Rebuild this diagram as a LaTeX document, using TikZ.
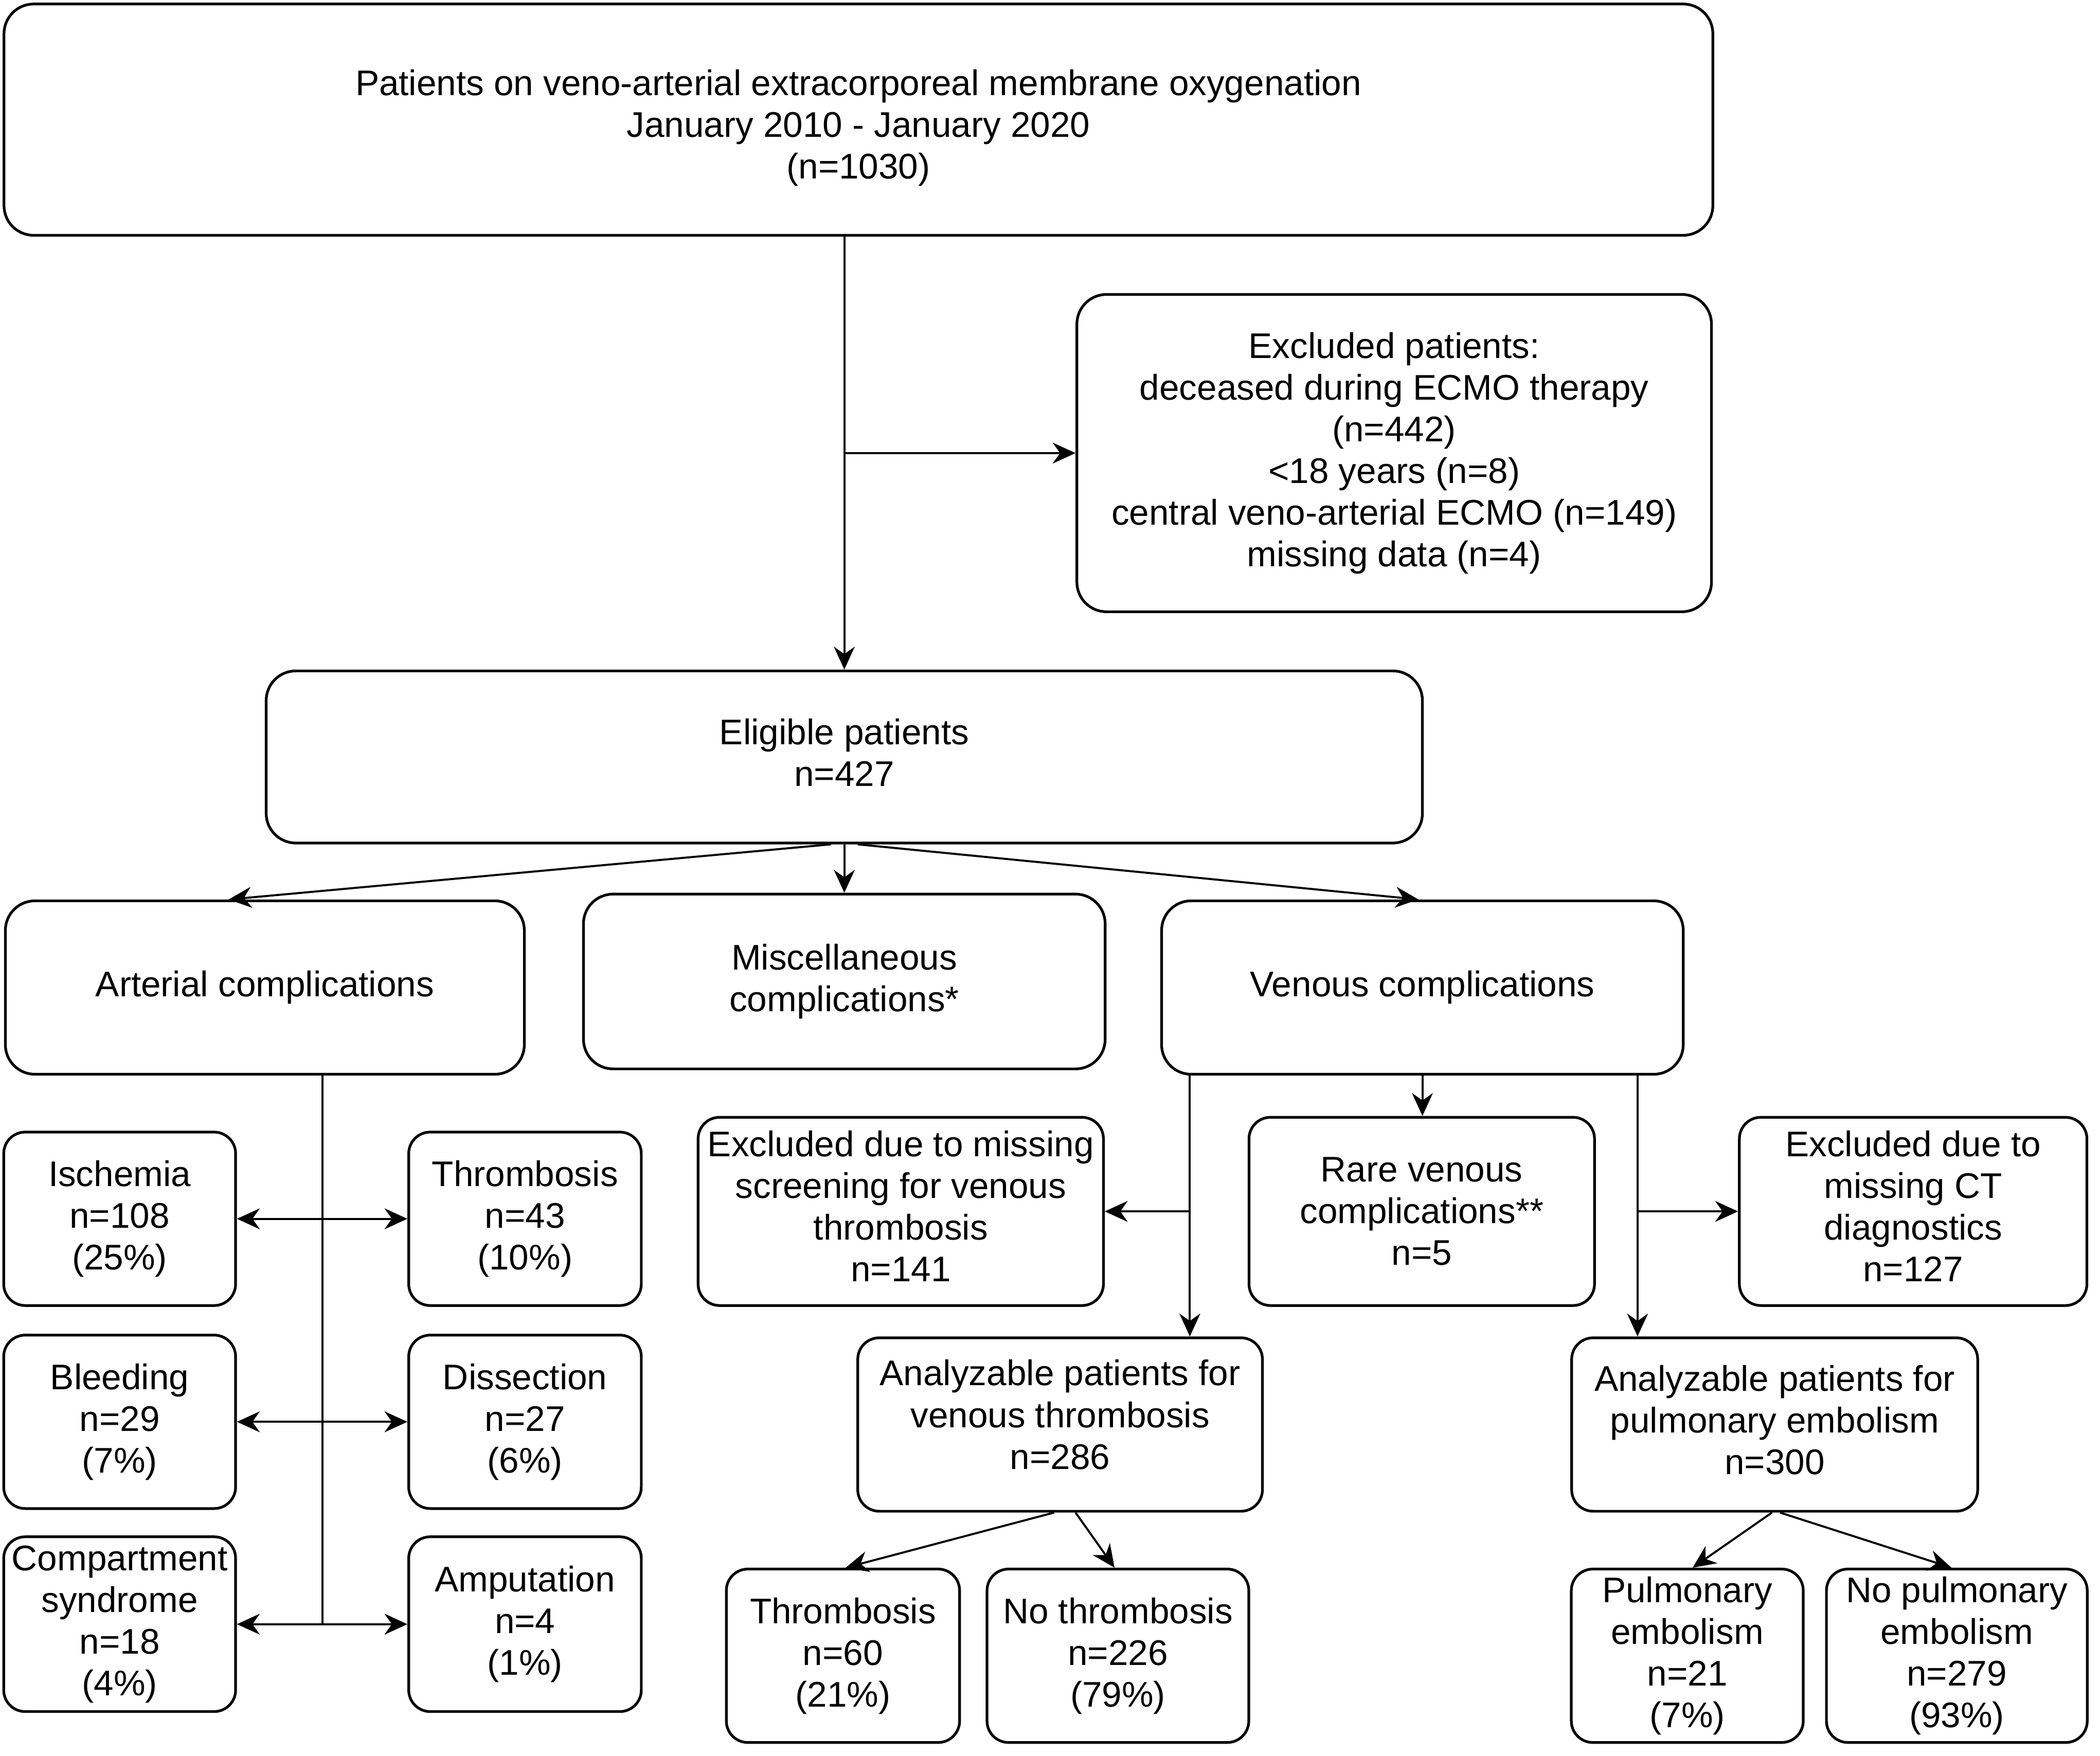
\documentclass[tikz,border=0pt]{standalone}
\usepackage{fontspec}
\setmainfont{Liberation Sans}
\usetikzlibrary{arrows.meta,calc}
\newcommand{\dpt}[1]{\rule[-#1]{0pt}{#1}}
\begin{document}
\begin{tikzpicture}[x=1pt,y=-1pt,
  box/.style={draw,line width=2pt,rounded corners=16pt,align=center,inner sep=1pt,
    font=\fontsize{26.5}{31}\selectfont},
  bigbox/.style={box,rounded corners=22pt},
  tip/.tip={Stealth[length=17pt,width=15.5pt,inset=5.5pt]},
  conn/.style={line width=1.5pt},
  arr/.style={conn,-tip},
  darr/.style={conn,tip-tip}]
\useasboundingbox (0,0) rectangle (1562,1306);
\fill[white] (0,0) rectangle (1562,1306);
% top level
\node[bigbox,minimum width=1271pt,minimum height=172pt] (top) at (638.5,89)
  {\rule{0pt}{31.5pt}Patients on veno-arterial extracorporeal membrane oxygenation\\January 2010 - January 2020\\(n=1030)};
\node[bigbox,minimum width=472pt,minimum height=236pt] (excl) at (1037,337)
  {Excluded patients:\\deceased during ECMO therapy\\(n=442)\\<18 years (n=8)\\central veno-arterial ECMO (n=149)\\missing data (n=4)};
\node[bigbox,minimum width=860pt,minimum height=128pt] (elig) at (628,563)
  {Eligible patients\\n=427\dpt{7pt}};
% second level
\node[bigbox,minimum width=386pt,minimum height=129pt] (art) at (197,734.5) {Arterial complications};
\node[bigbox,minimum width=388pt,minimum height=130pt] (misc) at (628,730) {Miscellaneous\\complications*};
\node[bigbox,minimum width=388pt,minimum height=129pt] (ven) at (1058,734.5) {Venous complications};
% arterial sub-boxes
\node[box,minimum width=172.5pt,minimum height=129pt] (isch) at (89,906.5) {Ischemia\\n=108\\(25\%)};
\node[box,minimum width=173pt,minimum height=129pt] (thr) at (390.5,906.5) {Thrombosis\\n=43\\(10\%)};
\node[box,minimum width=172.5pt,minimum height=129pt] (bleed) at (89,1057.5) {Bleeding\\n=29\\(7\%)};
\node[box,minimum width=173pt,minimum height=129pt] (diss) at (390.5,1057.5) {Dissection\\n=27\\(6\%)};
\node[box,minimum width=172.5pt,minimum height=130pt] (comp) at (89,1208) {Compartment\\syndrome\\n=18\\(4\%)};
\node[box,minimum width=173pt,minimum height=130pt] (amp) at (390.5,1208) {Amputation\\n=4\\(1\%)};
% venous sub-boxes
\node[box,minimum width=301.5pt,minimum height=140pt] (exs) at (670,901)
  {Excluded due to missing\\screening for venous\\thrombosis\\n=141\dpt{8pt}};
\node[box,minimum width=257pt,minimum height=140pt] (rare) at (1057.5,901)
  {Rare venous\\complications**\\n=5};
\node[box,minimum width=258.5pt,minimum height=140pt] (exct) at (1423,901)
  {Excluded due to\\missing CT\\diagnostics\\n=127\dpt{8pt}};
\node[box,minimum width=301pt,minimum height=129pt] (anv) at (788.5,1059.5)
  {Analyzable patients for\\venous thrombosis\\n=286\dpt{15pt}};
\node[box,minimum width=302pt,minimum height=129pt] (anp) at (1320,1059.5)
  {Analyzable patients for\\pulmonary embolism\\n=300\dpt{7pt}};
\node[box,minimum width=173.5pt,minimum height=129pt] (thv) at (627,1231.5) {Thrombosis\\n=60\\(21\%)};
\node[box,minimum width=194.7pt,minimum height=129pt] (nthv) at (831.5,1231.5) {No thrombosis\\n=226\\(79\%)};
\node[box,minimum width=172.5pt,minimum height=129pt] (pe) at (1255,1231.5) {Pulmonary\\embolism\\n=21\\(7\%)};
\node[box,minimum width=194pt,minimum height=129pt] (npe) at (1455.5,1231.5) {No pulmonary\\embolism\\n=279\\(93\%)};
% connectors: top
\draw[arr] ([xshift=-10.5pt]top.south) -- ([xshift=-10.5pt]top.south |- elig.north);
\draw[arr] ([xshift=-10.5pt]top.south |- excl.west) -- (excl.west);
% eligible to second level
\draw[arr] ([xshift=-10pt]elig.south) -- ([xshift=-27pt]art.north);
\draw[arr] (elig.south) -- (elig.south |- misc.north);
\draw[arr] ([xshift=10pt]elig.south) -- ([xshift=-3pt]ven.north);
% arterial
\draw[conn] ([xshift=43pt]art.south) -- ([xshift=43pt]art.south |- comp.east);
\draw[darr] (isch.east) -- (thr.west);
\draw[darr] (bleed.east) -- (diss.west);
\draw[darr] (comp.east) -- (amp.west);
% venous
\draw[arr] ([xshift=-173pt]ven.south) -- ([xshift=-173pt]ven.south |- anv.north);
\draw[arr] ([xshift=-173pt]ven.south |- exs.east) -- (exs.east);
\draw[arr] (ven.south) -- (ven.south |- rare.north);
\draw[arr] ([xshift=160pt]ven.south) -- ([xshift=160pt]ven.south |- anp.north);
\draw[arr] ([xshift=160pt]ven.south |- exct.west) -- (exct.west);
% analyzable venous
\draw[arr] ([xshift=-4.5pt]anv.south) -- ([xshift=2pt]thv.north);
\draw[arr] ([xshift=11.5pt]anv.south) -- ([xshift=-2.5pt]nthv.north);
% analyzable PE
\draw[arr] ([xshift=-2pt]anp.south) -- ([xshift=4pt]pe.north);
\draw[arr] ([xshift=4pt]anp.south) -- ([xshift=-4pt]npe.north);
\end{tikzpicture}
\end{document}
